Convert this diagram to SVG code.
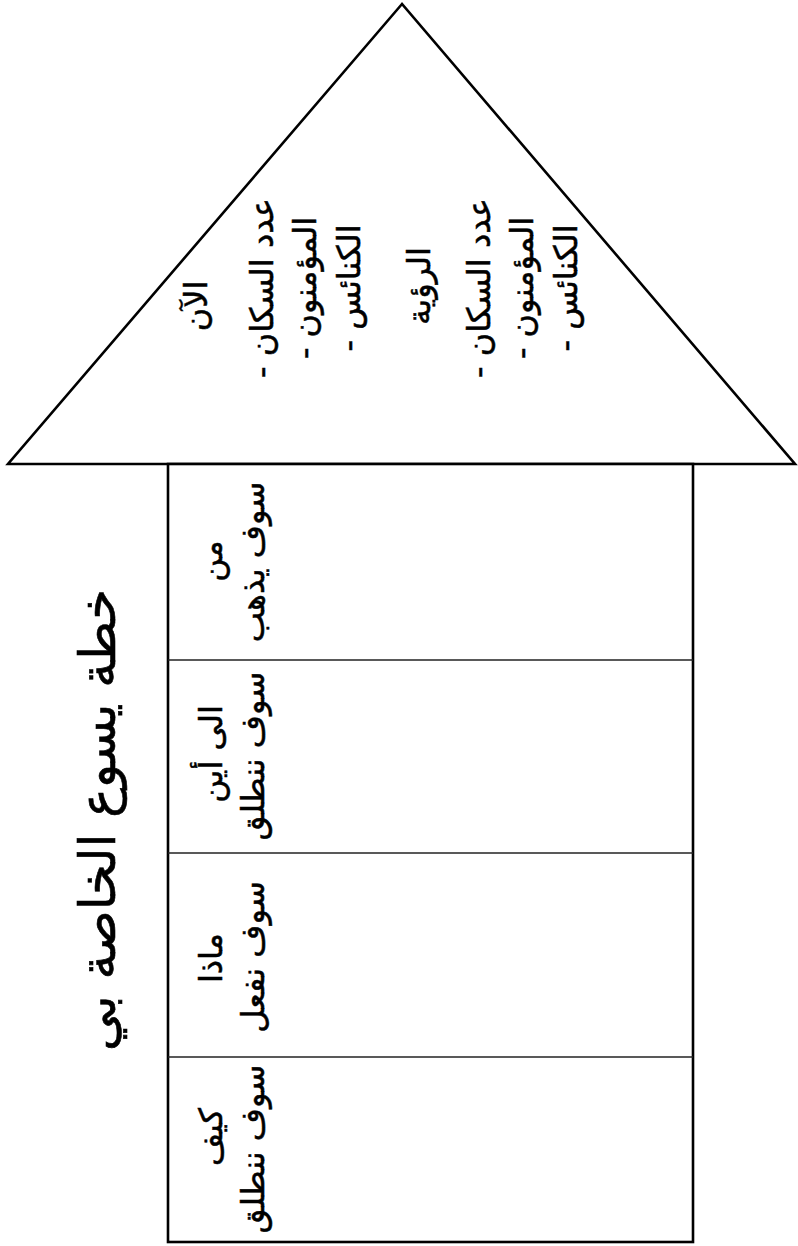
<svg xmlns="http://www.w3.org/2000/svg" width="798" height="1246" viewBox="0 0 798 1246">
  <style>
    .shape { fill: #ffffff; stroke: #000000; stroke-width: 2.6; stroke-linejoin: miter; }
    .divider { stroke: #222222; stroke-width: 1.6; }
    .t { font-family: "DejaVu Sans", "Noto Sans", sans-serif; font-size: 32px; fill: #000000; stroke: #000000; stroke-width: 0.5; direction: rtl; text-anchor: middle; }
    .title { font-size: 50px; stroke-width: 0.6; }
  </style>
  <rect x="0" y="0" width="798" height="1246" fill="#ffffff"/>

  <g id="roof">
    <polygon class="shape" points="402,4 8,464 795,464"/>
    <text class="t" transform="translate(207,306) rotate(-90)">الآن</text>
    <text class="t" transform="translate(273,288) rotate(-90)">عدد السكان -</text>
    <text class="t" transform="translate(316,288) rotate(-90)">المؤمنون -</text>
    <text class="t" transform="translate(360,288) rotate(-90)">الكنائس -</text>
    <text class="t" transform="translate(430,286) rotate(-90)">الرؤية</text>
    <text class="t" transform="translate(490,288) rotate(-90)">عدد السكان -</text>
    <text class="t" transform="translate(533,288) rotate(-90)">المؤمنون -</text>
    <text class="t" transform="translate(577,288) rotate(-90)">الكنائس -</text>
  </g>

  <g id="body">
    <rect class="shape" x="168" y="464" width="525" height="778"/>
  </g>

  <g id="connectors">
    <line class="divider" x1="168" y1="660" x2="693" y2="660"/>
    <line class="divider" x1="168" y1="853" x2="693" y2="853"/>
    <line class="divider" x1="168" y1="1057" x2="693" y2="1057"/>
  </g>

  <g id="cell-who">
    <text class="t" transform="translate(222,561) rotate(-90)">من</text>
    <text class="t" transform="translate(264,562) rotate(-90)">سوف يذهب</text>
  </g>
  <g id="cell-where">
    <text class="t" transform="translate(222,754) rotate(-90)">الى أين</text>
    <text class="t" transform="translate(264,756) rotate(-90)">سوف ننطلق</text>
  </g>
  <g id="cell-what">
    <text class="t" transform="translate(222,958) rotate(-90)">ماذا</text>
    <text class="t" transform="translate(264,957) rotate(-90)">سوف نفعل</text>
  </g>
  <g id="cell-how">
    <text class="t" transform="translate(222,1137) rotate(-90)">كيف</text>
    <text class="t" transform="translate(264,1149) rotate(-90)">سوف ننطلق</text>
  </g>

  <g id="title">
    <text class="t title" transform="translate(115,820) rotate(-90)">خطة يسوع الخاصة بي</text>
  </g>
</svg>
